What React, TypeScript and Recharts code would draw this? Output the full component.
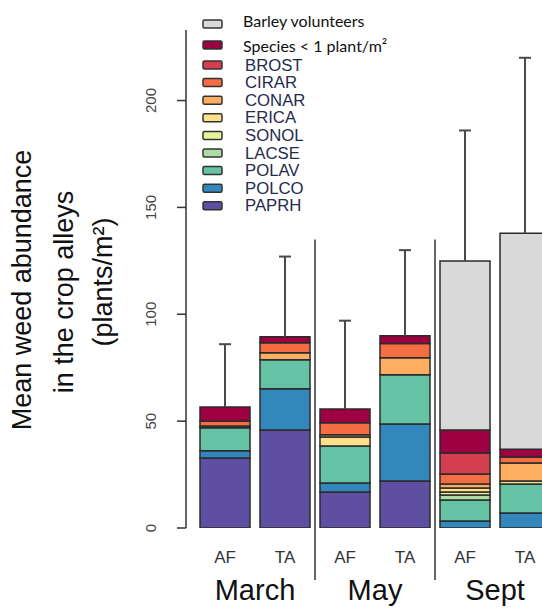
import { Bar, BarChart, XAxis, YAxis } from "recharts";

// bar order: March AF, March TA, May AF, May TA, Sept AF, Sept TA
const categories = ["AF", "TA", "AF", "TA", "AF", "TA"];
const months = ["March", "May", "Sept"];

// plants/m² per species (stacked bottom -> top)
const paprh = [32.8, 45.9, 16.9, 22.0, 0, 0];
const polco = [3.3, 19.2, 4.2, 26.7, 3.3, 7.0];
const polav = [10.8, 13.6, 17.3, 23.0, 9.8, 13.6];
const lacse = [0, 0, 0, 0, 2.3, 0];
const sonol = [0, 0, 0, 0, 1.4, 0];
const erica = [0, 0, 4.2, 0, 1.9, 1.4];
const conar = [0.8, 3.3, 1.0, 8.0, 1.9, 8.4];
const cirar = [2.3, 4.7, 5.6, 6.6, 4.7, 2.8];
const brost = [0, 0, 0, 0, 9.8, 0];
const rare = [6.6, 2.8, 6.5, 3.7, 10.8, 3.7];
const barley = [0, 0, 0, 0, 79.0, 101.0];
// upper end of error bars
const upper = [86, 127, 97, 130, 186, 220];

const yTicks = [0, 50, 100, 150, 200];
const yMax = 233;
const sepTop = 135; // month separators start here (axis units)

const W = 560;
const H = 608;
const PLOT_TOP = 30;
const X_AXIS_H = 80;
const PLOT_BOTTOM = H - X_AXIS_H;
const BAND = 60;
const FONT = "'Liberation Sans', Arial, sans-serif";

const yPx = (v: number) => PLOT_BOTTOM - (v / yMax) * (PLOT_BOTTOM - PLOT_TOP);

const series = [
  { key: "PAPRH", label: "PAPRH", values: paprh, color: "#5e4fa2" },
  { key: "POLCO", label: "POLCO", values: polco, color: "#3288bd" },
  { key: "POLAV", label: "POLAV", values: polav, color: "#66c2a5" },
  { key: "LACSE", label: "LACSE", values: lacse, color: "#abdda4" },
  { key: "SONOL", label: "SONOL", values: sonol, color: "#e6f598" },
  { key: "ERICA", label: "ERICA", values: erica, color: "#fee08b" },
  { key: "CONAR", label: "CONAR", values: conar, color: "#fdae61" },
  { key: "CIRAR", label: "CIRAR", values: cirar, color: "#f46d43" },
  { key: "BROST", label: "BROST", values: brost, color: "#d53e4f" },
  { key: "rare", label: "Species < 1 plant/m²", values: rare, color: "#9e0142" },
  { key: "barley", label: "Barley volunteers", values: barley, color: "#d9d9d9" },
];

const data = categories.map((c, i) => {
  const row: Record<string, number | string> = { idx: i, cat: c };
  let total = 0;
  series.forEach((s) => {
    row[s.key] = s.values[i];
    total += s.values[i];
  });
  row.err = upper[i] - total;
  return row;
});

function ErrShape(props: any) {
  const { x, y, width, height } = props;
  const cx = x + width / 2;
  return (
    <g stroke="#4a4a4a" strokeWidth={2}>
      <line x1={cx} x2={cx} y1={y} y2={y + height} />
      <line x1={cx - 6} x2={cx + 6} y1={y} y2={y} />
    </g>
  );
}

function XTick(props: any) {
  const { x, payload } = props;
  const i = payload.value as number;
  return (
    <g fontFamily={FONT}>
      <text x={x} y={PLOT_BOTTOM + 35} textAnchor="middle" fontSize={17} fill="#333">
        {categories[i]}
      </text>
      {i % 2 === 1 && (
        <text x={x - BAND / 2} y={PLOT_BOTTOM + 72} textAnchor="middle" fontSize={29} fill="#111">
          {months[(i - 1) / 2]}
        </text>
      )}
      {i % 2 === 0 && i > 0 && (
        <line
          x1={x - BAND / 2}
          x2={x - BAND / 2}
          y1={yPx(sepTop)}
          y2={PLOT_BOTTOM + 52}
          stroke="#333"
          strokeWidth={1.5}
        />
      )}
    </g>
  );
}

function YTick(props: any) {
  const { x, y, payload } = props;
  return (
    <text
      transform={`translate(${x - 25},${y}) rotate(-90)`}
      textAnchor="middle"
      dominantBaseline="central"
      fontSize={15}
      fontFamily={FONT}
      fill="#444"
    >
      {payload.value}
    </text>
  );
}

function Overlay() {
  const legend = [...series].reverse();
  const rowY = (i: number) => (i === 0 ? 24 : i === 1 ? 45 : 65 + (i - 2) * 17.6);
  return (
    <svg
      width={542}
      height={608}
      style={{ position: "absolute", left: 0, top: 0, pointerEvents: "none" }}
    >
      <g fontFamily={FONT} fontSize={27} fill="#111" textAnchor="middle" dominantBaseline="central">
        <text transform="translate(22,290) rotate(-90)">Mean weed abundance</text>
        <text transform="translate(64,292) rotate(-90)">in the crop alleys</text>
        <text transform="translate(103,282) rotate(-90)">(plants/m²)</text>
      </g>
      {legend.map((s, i) => {
        const cy = rowY(i);
        const isCode = i > 1;
        return (
          <g key={s.key}>
            <rect x={203} y={cy - 4} width={19} height={8} rx={1.5} fill={s.color} stroke="#333" strokeWidth={1.5} />
            <text
              x={isCode ? 245 : 243}
              y={i === 0 ? 20 : cy}
              dominantBaseline="central"
              fontFamily={isCode ? FONT : "Lato, 'Open Sans', sans-serif"}
              fontSize={isCode ? 15.5 : 16}
              fill={isCode ? "#262b4d" : "#111"}
              transform={isCode ? `translate(245,${cy}) scale(1.08,1.1) translate(-245,${-cy})` : undefined}
            >
              {s.label}
            </text>
          </g>
        );
      })}
    </svg>
  );
}

export default function App() {
  return (
    <div
      style={{
        position: "absolute",
        left: 0,
        top: 0,
        width: 542,
        height: 608,
        overflow: "hidden",
        background: "#fff",
      }}
    >
      <BarChart
        width={W}
        height={H}
        data={data}
        margin={{ top: PLOT_TOP, right: 0, bottom: 0, left: 0 }}
      >
        <XAxis
          dataKey="idx"
          type="category"
          height={X_AXIS_H}
          padding={{ left: 9, right: 5 }}
          axisLine={false}
          tickLine={false}
          interval={0}
          tick={<XTick />}
        />
        <YAxis
          width={186}
          domain={[0, yMax]}
          ticks={yTicks}
          tickSize={9}
          axisLine={{ stroke: "#333", strokeWidth: 1.5 }}
          tickLine={{ stroke: "#333", strokeWidth: 1.5 }}
          tick={<YTick />}
          allowDataOverflow
        />
        {series.map((s) => (
          <Bar
            key={s.key}
            dataKey={s.key}
            stackId="a"
            barSize={50}
            fill={s.color}
            stroke="#2b2b2b"
            strokeWidth={1.5}
            isAnimationActive={false}
          />
        ))}
        <Bar dataKey="err" stackId="a" barSize={50} shape={<ErrShape />} isAnimationActive={false} />
      </BarChart>
      <Overlay />
    </div>
  );
}
